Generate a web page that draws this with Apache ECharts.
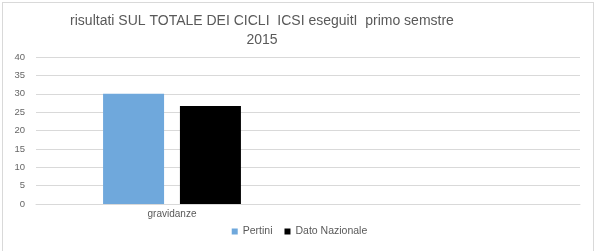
<!DOCTYPE html>
<html><head><meta charset="utf-8">
<script src="https://cdn.jsdelivr.net/npm/echarts@6/dist/echarts.min.js"></script>
<style>html,body{margin:0;padding:0;background:#fff}#c{width:599px;height:251px}
#f{position:absolute;left:2px;top:2px;width:590px;height:260px;border:1px solid #d9d9d9;pointer-events:none}</style>
</head><body><div id="c"></div><div id="f"></div>
<script>
var categories = ["gravidanze", ""];
var pertini = [30, null];
var datoNazionale = [26.7, null];
var yTicks = [0, 5, 10, 15, 20, 25, 30, 35, 40];
var titleText = "risultati SUL TOTALE DEI CICLI  ICSI eseguitI  primo semstre\n2015";

var chart = echarts.init(document.getElementById('c'), null, {renderer: 'canvas'});
chart.setOption({
  animation: false,
  graphic: [{
    type: 'text', x: 262, y: 12,
    style: {text: titleText, align: 'center', verticalAlign: 'top',
      font: '14px "Liberation Sans"', fill: '#595959', lineHeight: 19}
  }],
  legend: {
    bottom: 9, left: 'center', itemWidth: 6, itemHeight: 6, itemGap: 12,
    icon: 'rect',
    textStyle: {fontFamily: 'Liberation Sans', fontSize: 10.5, color: '#595959'},
    data: ['Pertini', 'Dato Nazionale']
  },
  grid: {left: 36, right: 19, top: 57, bottom: 47, containLabel: false},
  xAxis: {
    type: 'category', data: categories,
    axisLine: {lineStyle: {color: '#d9d9d9'}},
    axisTick: {show: false},
    axisLabel: {fontFamily: 'Liberation Sans', fontSize: 10, color: '#595959', margin: 5}
  },
  yAxis: {
    type: 'value', min: 0, max: 40, interval: 5,
    axisLine: {show: false}, axisTick: {show: false},
    splitLine: {lineStyle: {color: '#d9d9d9'}},
    axisLabel: {fontFamily: 'Liberation Sans', fontSize: 9.5, color: '#666666', margin: 11,
      formatter: function(v){ return yTicks.indexOf(v) >= 0 ? String(v) : ''; }}
  },
  series: [
    {name: 'Pertini', type: 'bar', data: pertini, barWidth: 61, barGap: '26%', itemStyle: {color: '#6fa8dc'}},
    {name: 'Dato Nazionale', type: 'bar', data: datoNazionale, barWidth: 61, itemStyle: {color: '#000000'}}
  ]
});
</script></body></html>
